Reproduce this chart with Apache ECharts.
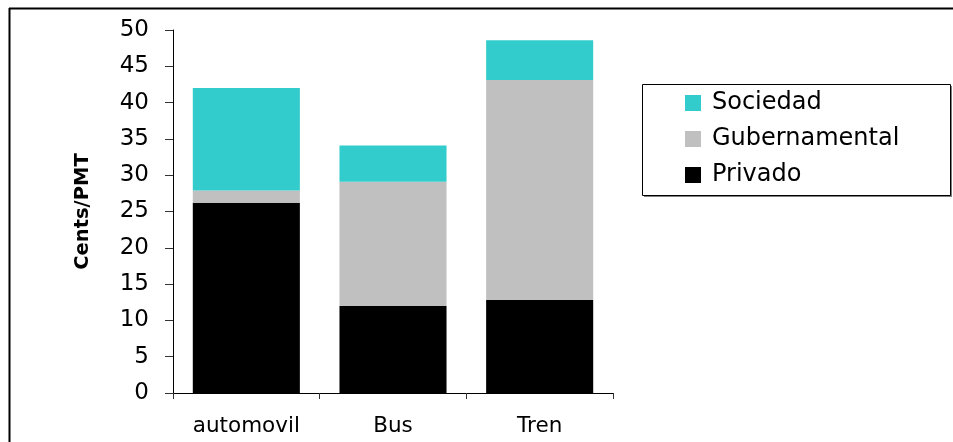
<!DOCTYPE html>
<html>
<head>
<meta charset="utf-8">
<script src="https://cdn.jsdelivr.net/npm/echarts@6/dist/echarts.min.js"></script>
<style>
  html, body { margin: 0; padding: 0; background: #fff; }
  #chart { width: 953px; height: 442px; }
</style>
</head>
<body>
<div id="chart"></div>
<script>
// Cost per passenger-mile by transport mode, split by who pays
const categories = ['automovil', 'Bus', 'Tren'];
const privado = [26.2, 12.0, 12.8];
const gubernamental = [1.7, 17.1, 30.3];
const sociedad = [14.1, 5.0, 5.5];
const yTicks = { min: 0, max: 50, interval: 5 };
const legendOrder = ['Sociedad', 'Gubernamental', 'Privado'];

const FONT = '"DejaVu Sans", "Liberation Sans", Arial, sans-serif';
const chart = echarts.init(document.getElementById('chart'), null, { renderer: 'canvas' });

const barSeries = (name, data, color) => ({
  name: name,
  type: 'bar',
  stack: 'total',
  data: data,
  barWidth: '73%',
  itemStyle: { color: color },
  emphasis: { disabled: true }
});

chart.setOption({
  animation: false,
  backgroundColor: '#ffffff',
  grid: { left: 173, right: 340, top: 30, bottom: 49, containLabel: false },
  legend: {
    orient: 'vertical',
    left: 685,
    top: 91,
    padding: 0,
    itemWidth: 16,
    itemHeight: 16,
    itemGap: 12,
    icon: 'rect',
    data: legendOrder,
    selectedMode: false,
    z: 10,
    textStyle: { fontFamily: FONT, fontSize: 24, color: '#000', lineHeight: 22, padding: [0, 0, 0, 6] }
  },
  xAxis: {
    type: 'category',
    data: categories,
    axisLine: { lineStyle: { color: '#000', width: 1 } },
    axisTick: { show: true, alignWithLabel: false, length: 6, lineStyle: { color: '#333' } },
    axisLabel: { fontFamily: FONT, fontSize: 21.5, color: '#000', margin: 22 }
  },
  yAxis: {
    type: 'value',
    min: yTicks.min,
    max: yTicks.max,
    interval: yTicks.interval,
    name: 'Cents/PMT',
    nameLocation: 'middle',
    nameRotate: 90,
    nameGap: 80,
    nameTextStyle: { fontFamily: FONT, fontSize: 19.5, fontWeight: 'bold', color: '#000' },
    axisLine: { show: true, lineStyle: { color: '#000', width: 1 } },
    axisTick: { show: true, length: 8, lineStyle: { color: '#333' } },
    splitLine: { show: false },
    axisLabel: { fontFamily: FONT, fontSize: 23, color: '#000', margin: 24 }
  },
  series: [
    barSeries('Privado', privado, '#000000'),
    barSeries('Gubernamental', gubernamental, '#c0c0c0'),
    barSeries('Sociedad', sociedad, '#33cccc')
  ],
  graphic: [
    // outer frame (top and left edges)
    { type: 'line', shape: { x1: 9, y1: 8.5, x2: 960, y2: 8.5 }, style: { stroke: '#000', lineWidth: 2 }, silent: true },
    { type: 'line', shape: { x1: 9.5, y1: 8, x2: 9.5, y2: 450 }, style: { stroke: '#000', lineWidth: 2 }, silent: true },
    // legend box: gray drop edge, then the black outline
    {
      type: 'rect',
      shape: { x: 644, y: 86, width: 308, height: 111 },
      style: { fill: '#808080', stroke: null },
      silent: true,
      z: 1
    },
    {
      type: 'rect',
      shape: { x: 642.5, y: 84.5, width: 308, height: 111 },
      style: { fill: '#ffffff', stroke: '#000', lineWidth: 1 },
      silent: true,
      z: 2
    }
  ]
});
</script>
</body>
</html>
